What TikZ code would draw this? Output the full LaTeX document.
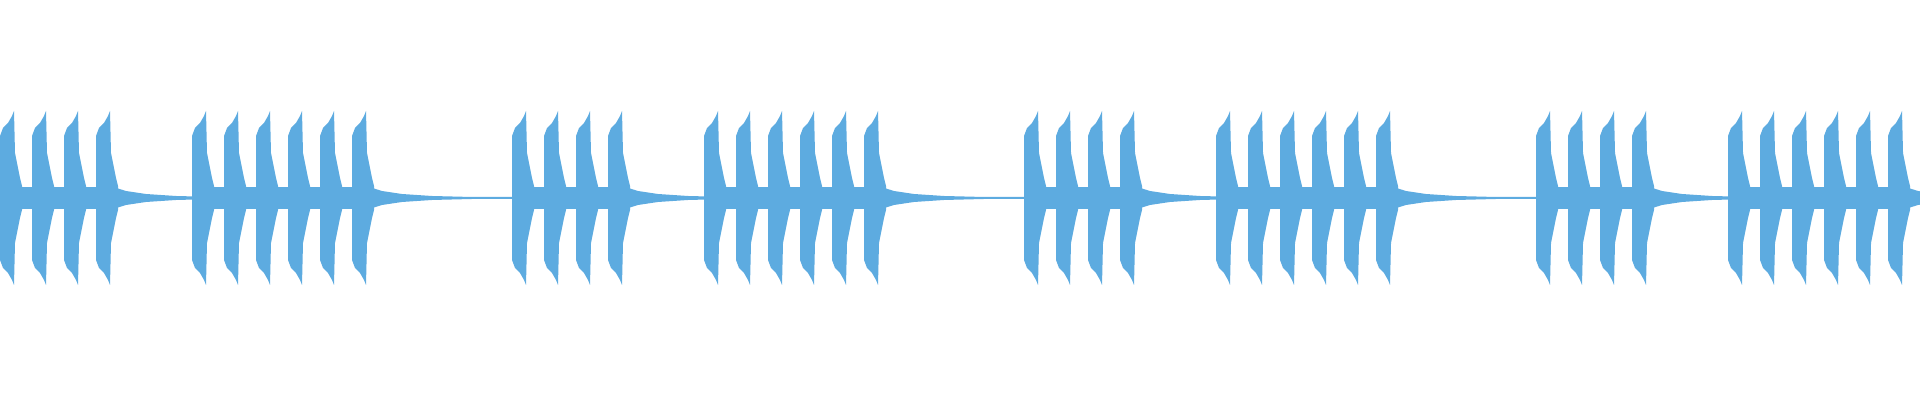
\documentclass[tikz,border=0pt]{standalone}
\definecolor{wave}{HTML}{5DABE0}
\begin{document}
\begin{tikzpicture}[x=0.5pt,y=0.5pt,wavefill/.style={fill=wave,draw=none}]
\useasboundingbox (0,0) rectangle (1920,400);
\clip (0,0) rectangle (1920,400);
\begin{scope}[yshift=101pt]
\foreach \gs/\n in {0/4,192/6,512/4,704/6,1024/4,1216/6,1536/4,1728/6}{
  \pgfmathtruncatemacro{\last}{\n-1}
  \foreach \k in {0,...,\last}{
    \pgfmathsetmacro{\xo}{\gs+32*\k}
    \begin{scope}[xshift=\xo*0.5pt]
      \fill[wavefill] (0,-62) -- (0,62) -- (3,70) -- (8,75) -- (12,82) -- (14,87) -- (15,45) -- (17,35) -- (20,20) -- (22,12)
        -- (22,-12) -- (20,-20) -- (17,-35) -- (15,-45) -- (14,-87) -- (12,-82) -- (8,-75) -- (3,-70) -- cycle;
      \ifnum\k<\last
        \fill[wavefill] (14,-11) rectangle (33,11);
      \else
        \fill[wavefill] (14,12) -- (30,7) -- (50,4) -- (80,2) -- (120,1) -- (200,1) -- (200,-1) -- (120,-1) -- (80,-2) -- (50,-4) -- (30,-7) -- (14,-12) -- cycle;
      \fi
    \end{scope}
  }
}
\end{scope}
\end{tikzpicture}
\end{document}
